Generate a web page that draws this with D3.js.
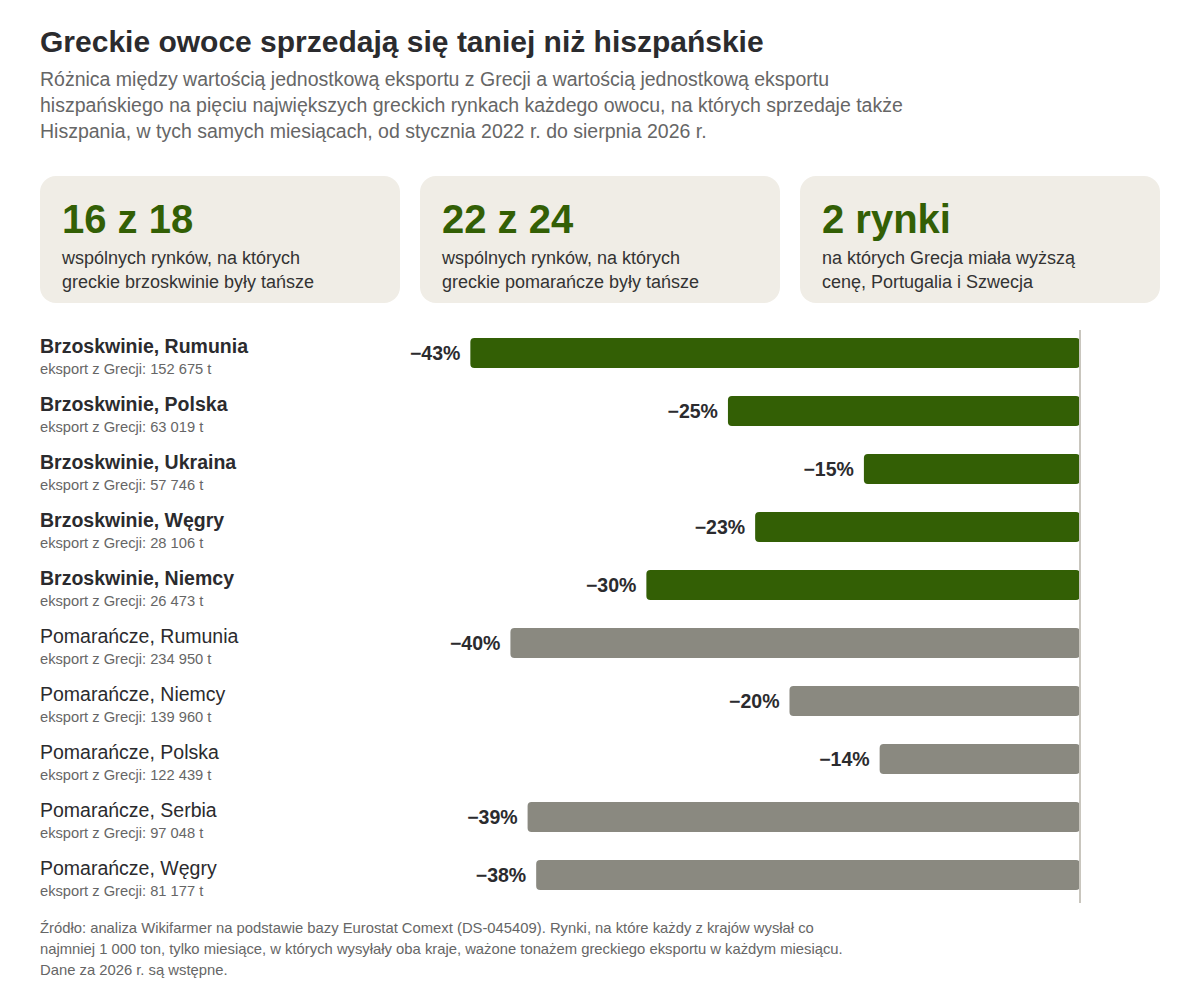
<!DOCTYPE html>
<html>
<head>
<meta charset="utf-8">
<script src="https://cdn.jsdelivr.net/npm/d3@7"></script>
<style>
  body { margin: 0; background: #fff; }
  svg { display: block; font-family: "Liberation Sans", Arial, sans-serif; }
</style>
</head>
<body>
<div class="canvas"></div>
<script>
// data
const fruits = ['Brzoskwinie', 'Brzoskwinie', 'Brzoskwinie', 'Brzoskwinie', 'Brzoskwinie',
  'Pomarańcze', 'Pomarańcze', 'Pomarańcze', 'Pomarańcze', 'Pomarańcze'];
const markets = ['Rumunia', 'Polska', 'Ukraina', 'Węgry', 'Niemcy',
  'Rumunia', 'Niemcy', 'Polska', 'Serbia', 'Węgry'];
const exportTonnes = [152675, 63019, 57746, 28106, 26473, 234950, 139960, 122439, 97048, 81177];
const priceGap = [-42.6, -24.6, -15.1, -22.7, -30.3, -39.8, -20.3, -14.0, -38.6, -38.0];

const cardNumbers = ['16 z 18', '22 z 24', '2 rynki'];
const cardLines = [
  ['wspólnych rynków, na których', 'greckie brzoskwinie były tańsze'],
  ['wspólnych rynków, na których', 'greckie pomarańcze były tańsze'],
  ['na których Grecja miała wyższą', 'cenę, Portugalia i Szwecja']
];

const title = 'Greckie owoce sprzedają się taniej niż hiszpańskie';
const subtitle = [
  'Różnica między wartością jednostkową eksportu z Grecji a wartością jednostkową eksportu',
  'hiszpańskiego na pięciu największych greckich rynkach każdego owocu, na których sprzedaje także',
  'Hiszpania, w tych samych miesiącach, od stycznia 2022 r. do sierpnia 2026 r.'
];
const footnote = [
  'Źródło: analiza Wikifarmer na podstawie bazy Eurostat Comext (DS-045409). Rynki, na które każdy z krajów wysłał co',
  'najmniej 1 000 ton, tylko miesiące, w których wysyłały oba kraje, ważone tonażem greckiego eksportu w każdym miesiącu.',
  'Dane za 2026 r. są wstępne.'
];

const rows = fruits.map((f, i) => ({
  fruit: f, market: markets[i], tonnes: exportTonnes[i], value: priceGap[i], i
}));

const width = 1200, height = 1007;
const green = '#335f05', grey = '#8a8980', ink = '#2b2b2e', muted = '#666666';

const svg = d3.select('.canvas')
  .append('svg')
  .attr('width', width)
  .attr('height', height);

// title + subtitle
svg.append('text')
  .attr('x', 40).attr('y', 52)
  .attr('font-size', 30).attr('font-weight', 700).attr('fill', ink)
  .text(title);

svg.append('g').selectAll('text')
  .data(subtitle)
  .join('text')
  .attr('x', 40).attr('y', (d, i) => 86 + i * 26)
  .attr('font-size', 19.5).attr('fill', muted)
  .text(d => d);

// cards
const cardX = d3.scaleBand()
  .domain(d3.range(cardNumbers.length))
  .range([40, 1180])
  .paddingInner(0);

const cards = svg.append('g').selectAll('g')
  .data(cardNumbers)
  .join('g')
  .attr('transform', (d, i) => `translate(${cardX(i)}, 176)`);

cards.append('rect')
  .attr('width', cardX.bandwidth() - 20)
  .attr('height', 127)
  .attr('rx', 16)
  .attr('fill', '#f0ede6');

cards.append('text')
  .attr('x', 22).attr('y', 57)
  .attr('font-size', 40).attr('font-weight', 700).attr('fill', green)
  .text(d => d);

cards.each(function (d, i) {
  d3.select(this).selectAll('text.line')
    .data(cardLines[i])
    .join('text')
    .attr('class', 'line')
    .attr('x', 22).attr('y', (t, j) => 88 + j * 24)
    .attr('font-size', 18).attr('fill', '#333')
    .text(t => t);
});

// scales
const x = d3.scaleLinear()
  .domain([-45, 0])
  .range([436, 1080]);

const y = d3.scaleBand()
  .domain(rows.map(d => d.i))
  .range([330, 910]);

const fmt = v => String(v).replace(/\B(?=(\d{3})+(?!\d))/g, ' ');

// row labels
const labels = svg.append('g').selectAll('g')
  .data(rows)
  .join('g')
  .attr('transform', d => `translate(40, ${y(d.i)})`);

labels.append('text')
  .attr('y', 23)
  .attr('font-size', 19.5)
  .attr('font-weight', d => d.fruit === 'Brzoskwinie' ? 700 : 400)
  .attr('fill', ink)
  .text(d => `${d.fruit}, ${d.market}`);

labels.append('text')
  .attr('y', 44)
  .attr('font-size', 14.7)
  .attr('fill', muted)
  .text(d => `eksport z Grecji: ${fmt(d.tonnes)} t`);

// bars
svg.append('g').selectAll('rect')
  .data(rows)
  .join('rect')
  .attr('x', d => x(d.value))
  .attr('y', d => y(d.i) + 8)
  .attr('width', d => x(0) - x(d.value))
  .attr('height', 30)
  .attr('rx', 4)
  .attr('fill', d => d.fruit === 'Brzoskwinie' ? green : grey);

// value labels
svg.append('g').selectAll('text')
  .data(rows)
  .join('text')
  .attr('x', d => x(d.value) - 10)
  .attr('y', d => y(d.i) + 30)
  .attr('text-anchor', 'end')
  .attr('font-size', 19.5).attr('font-weight', 700).attr('fill', ink)
  .text(d => '\u2212' + Math.round(Math.abs(d.value)) + '%');

// zero line
svg.append('line')
  .attr('x1', x(0)).attr('x2', x(0))
  .attr('y1', 330).attr('y2', 903)
  .attr('stroke', '#c9c6be').attr('stroke-width', 2);

// footnote
svg.append('g').selectAll('text')
  .data(footnote)
  .join('text')
  .attr('x', 40).attr('y', (d, i) => 933 + i * 21)
  .attr('font-size', 14.8).attr('fill', muted)
  .text(d => d);
</script>
</body>
</html>
